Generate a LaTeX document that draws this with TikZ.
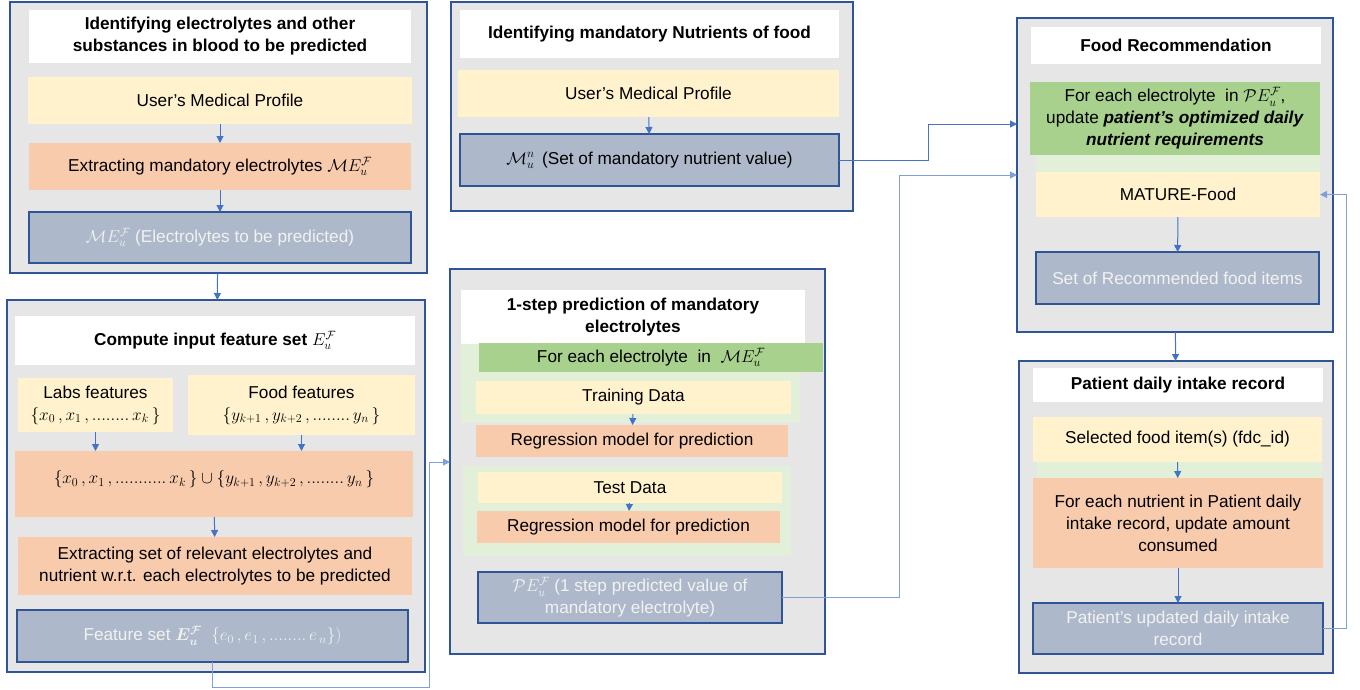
\RequirePackage{fix-cm}
\documentclass[tikz,border=0pt]{standalone}
\usepackage{amsmath}
\usepackage[no-math]{fontspec}
\setmainfont{Liberation Sans}
\usetikzlibrary{arrows.meta}

\definecolor{panelgray}{HTML}{E6E6E6}
\definecolor{panelblue}{HTML}{2F5597}
\definecolor{arrowblue}{HTML}{4472C4}
\definecolor{linkblue}{HTML}{7F9FD8}
\definecolor{boxyellow}{HTML}{FFF2CC}
\definecolor{boxorange}{HTML}{F8CBAD}
\definecolor{boxblue}{HTML}{ADB9CA}
\definecolor{boxgreen}{HTML}{A9D18E}
\definecolor{boxlgreen}{HTML}{E2F0D9}
\definecolor{restext}{HTML}{F2F2F2}

\def \txtFont {\fontsize{17.2}{22}\selectfont}

\tikzset{
  box/.style={rectangle, inner sep=0pt, outer sep=0pt, align=center, font=\txtFont},
  sz/.style 2 args={minimum width=#1, minimum height=#2},
  panel/.style={box, draw=panelblue, line width=1.5pt, fill=panelgray},
  ttl/.style={box, fill=white, font=\txtFont\bfseries},
  yel/.style={box, fill=boxyellow},
  org/.style={box, fill=boxorange},
  grn/.style={box, fill=boxgreen},
  lgrn/.style={box, fill=boxlgreen},
  res/.style={box, fill=boxblue, draw=panelblue, line width=1.5pt, text=restext},
  arr/.style={draw=arrowblue, line width=1pt, -{Triangle[length=7pt,width=7pt]}},
  arrl/.style={arr, draw=linkblue},
}

\begin{document}
\begin{tikzpicture}[x=1pt, y=-1pt]
   \useasboundingbox (0,0) rectangle (1360,689);

   % panels
   \node[panel, sz={417}{271}] (p1) at (218.5,137.5) {};
   \node[panel, sz={418}{372}] (p2) at (216,486) {};
   \node[panel, sz={375}{385}] (p3) at (637.5,461.5) {};
   \node[panel, sz={402}{209}] (p4) at (652,106.5) {};
   \node[panel, sz={316}{314}] (p5) at (1175,175) {};
   \node[panel, sz={314}{312}] (p6) at (1176,517) {};

   % electrolytes to be predicted
   \node[ttl, sz={382}{53}] (p1ttl) at (220,36.5) {Identifying electrolytes and other\\substances in blood to be predicted};
   \node[yel, sz={384}{47}] (p1prof) at (220,100.5) {User’s Medical Profile};
   \node[org, sz={382}{47}] (p1ext) at (220,166.5) {Extracting mandatory electrolytes $\mathcal{M}E_u^{\mathcal{F}}$};
   \node[res, sz={382}{51}] (p1me) at (220,237.5) {$\mathcal{M}E_u^{\mathcal{F}}$ (Electrolytes to be predicted)};

   % input feature set
   \node[ttl, sz={400}{49}] (p2ttl) at (215,340.5) {Compute input feature set $E_u^{\mathcal{F}}$};
   \node[yel, sz={155}{54}] (p2labs) at (95.5,405) {Labs features\\$\{x_0\,,x_1\,,........\, x_k\,\}$};
   \node[yel, sz={227}{60}] (p2food) at (301.5,405) {Food features\\$\{y_{k+1}\,,y_{k+2}\,,........\, y_n\,\}$};
   \node[org, sz={398}{66}, text depth=14pt] (p2union) at (214,484) {$\{x_0\,,x_1\,,...........\, x_k\,\}\cup\{y_{k+1}\,,y_{k+2}\,,........\, y_n\,\}$};
   \node[org, sz={394}{58}] (p2ext) at (215,566) {Extracting set of relevant electrolytes and\\nutrient w.r.t. each electrolytes to be predicted};
   \node[res, sz={391}{52}] (p2feat) at (212.5,636) {Feature set $\boldsymbol{E_u^{\mathcal{F}}}$\ \ $\{e_0\,,e_1\,,........\, e_{\,n}\})$};

   % 1-step prediction
   \node[lgrn, sz={339}{79}] (p3bg1) at (630.5,383.5) {};
   \node[lgrn, sz={328}{90}] (p3bg2) at (627,511) {};
   \node[ttl, sz={344}{54}] (p3ttl) at (633,317) {1-step prediction of mandatory\\electrolytes};
   \node[grn, sz={344}{29}] (p3each) at (651,357.5) {For each electrolyte\ \ in\ \ $\mathcal{M}E_u^{\mathcal{F}}$};
   \node[yel, sz={315}{33}] (p3train) at (633.5,397.5) {Training Data};
   \node[org, sz={312}{32}] (p3reg1) at (632,441) {Regression model for prediction};
   \node[yel, sz={304}{31}] (p3test) at (630,487.5) {Test Data};
   \node[org, sz={303}{32}] (p3reg2) at (628.5,527) {Regression model for prediction};
   \node[res, sz={304}{51}] (p3pe) at (630,597.5) {$\mathcal{P}E_u^{\mathcal{F}}$ (1 step predicted value of\\mandatory electrolyte)};

   % mandatory nutrients
   \node[ttl, sz={379}{48}] (p4ttl) at (649.5,34) {Identifying mandatory Nutrients of food};
   \node[yel, sz={381}{47}] (p4prof) at (648.5,93.5) {User’s Medical Profile};
   \node[res, sz={379}{52}, text=black] (p4mn) at (649.5,160) {$\mathcal{M}_u^n$\, (Set of mandatory nutrient value)};

   % food recommendation
   \node[ttl, sz={290}{37}] (p5ttl) at (1176,45.5) {Food Recommendation};
   \node[grn, sz={290}{73}] (p5each) at (1175,118.5) {For each electrolyte\ \ in $\mathcal{P}E_u^{\mathcal{F}}$,\\update \textbf{\textit{patient’s optimized daily}}\\\textbf{\textit{nutrient requirements}}};
   \node[lgrn, sz={284}{17}] (p5strip) at (1178,163.5) {};
   \node[yel, sz={284}{45}] (p5mature) at (1178,194.5) {MATURE-Food};
   \node[res, sz={283}{52}] (p5set) at (1177.5,278) {Set of Recommended food items};

   % daily intake record
   \node[ttl, sz={290}{34}] (p6ttl) at (1178,385) {Patient daily intake record};
   \node[yel, sz={289}{45}] (p6sel) at (1177.5,439.5) {Selected food item(s) (fdc\_id)};
   \node[lgrn, sz={285}{16}] (p6strip) at (1179.5,470) {};
   \node[org, sz={290}{90}] (p6upd) at (1178,523) {For each nutrient in Patient daily\\intake record, update amount\\consumed};
   \node[res, sz={290}{51}] (p6rec) at (1178,628.5) {Patient’s updated daily intake\\record};

   % bend points
   \coordinate (c1) at (429,687);
   \coordinate (p3in) at (450,462);
   \coordinate (c2) at (899,175);
   \coordinate (p5in2) at (1017,175);
   \coordinate (c3) at (928,124);
   \coordinate (p5in1) at (1017,124);
   \coordinate (c4) at (1346,194.5);

   % connectors
   \draw[arr] (p1prof) -- (p1ext);
   \draw[arr] (p1ext) -- (p1me);
   \draw[arr] (p1) -- (p2);
   \draw[arr] (p2labs) -- (p2labs |- p2union.north);
   \draw[arr] (p2food) -- (p2food |- p2union.north);
   \draw[arr] (p2union) -- (p2ext);
   \draw[arrl] (p2feat.south) |- (c1) |- (p3in);
   \draw[arr] (p3train) -- (p3reg1);
   \draw[arr] (p3test) -- (p3reg2);
   \draw[arrl] (p3pe.east) -| (c2) -- (p5in2);
   \draw[arr] (p4prof) -- (p4mn);
   \draw[arr] (p4mn.east) -| (c3) -- (p5in1);
   \draw[arr] (p5mature) -- (p5set);
   \draw[arr] (p5) -- (p6);
   \draw[arr] (p6sel) -- (p6upd);
   \draw[arr] (p6upd) -- (p6rec);
   \draw[arrl] (p6rec.east) -| (c4) -- (p5mature.east);
\end{tikzpicture}
\end{document}
